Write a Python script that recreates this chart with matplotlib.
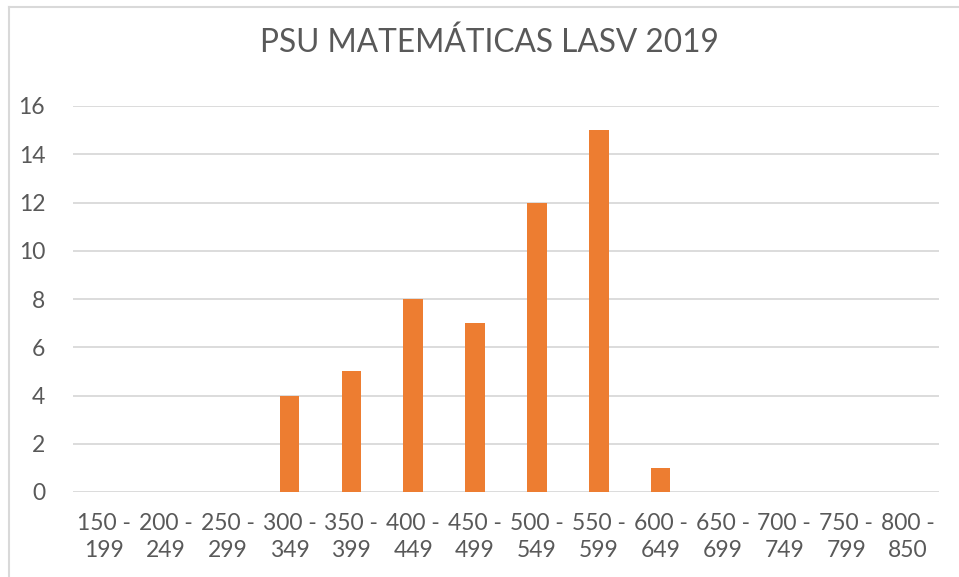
import matplotlib
matplotlib.use("Agg")
import matplotlib.pyplot as plt
from matplotlib.lines import Line2D

categories = ["150 -\n199", "200 -\n249", "250 -\n299", "300 -\n349", "350 -\n399",
              "400 -\n449", "450 -\n499", "500 -\n549", "550 -\n599", "600 -\n649",
              "650 -\n699", "700 -\n749", "750 -\n799", "800 -\n850"]
values = [0, 0, 0, 4, 5, 8, 7, 12, 15, 1, 0, 0, 0, 0]
yticks = [0, 2, 4, 6, 8, 10, 12, 14, 16]
title = "PSU MATEMÁTICAS LASV 2019"

W, H = 959, 577
fig = plt.figure(figsize=(W / 100, H / 100), dpi=100)
plt.rcParams['font.family'] = ['Lato', 'DejaVu Sans']

x0, x1 = 73, 939
y0, y1 = 492, 106
ax = fig.add_axes([x0 / W, 1 - y0 / H, (x1 - x0) / W, (y0 - y1) / H])

xs = list(range(len(categories)))
ax.bar(xs, values, width=0.315, color="#ED7D31", zorder=3)
ax.set_xlim(-0.5, len(categories) - 0.5)
ax.set_ylim(0, 16)
ax.set_yticks(yticks)
ax.set_xticks(xs)
ax.set_xticklabels(categories, linespacing=1.35)
ax.grid(axis='y', color="#d9d9d9", linewidth=1.3, zorder=0)
for s in ax.spines.values():
    s.set_visible(False)
ax.tick_params(axis='both', length=0, labelsize=16.5, colors="#595959")
ax.tick_params(axis='y', pad=20)
ax.tick_params(axis='x', pad=15)

fig.text(489 / W, 1 - 43 / H, title, ha='center', va='center', fontsize=22.8, color="#595959")

# chart border (top and left visible)
fig.add_artist(Line2D([9 / W, 9 / W], [0, 1 - 7 / H], transform=fig.transFigure, color="#d9d9d9", linewidth=1.5))
fig.add_artist(Line2D([9 / W, 1], [1 - 7 / H, 1 - 7 / H], transform=fig.transFigure, color="#d9d9d9", linewidth=1.5))

fig.savefig("out.png", dpi=100)
